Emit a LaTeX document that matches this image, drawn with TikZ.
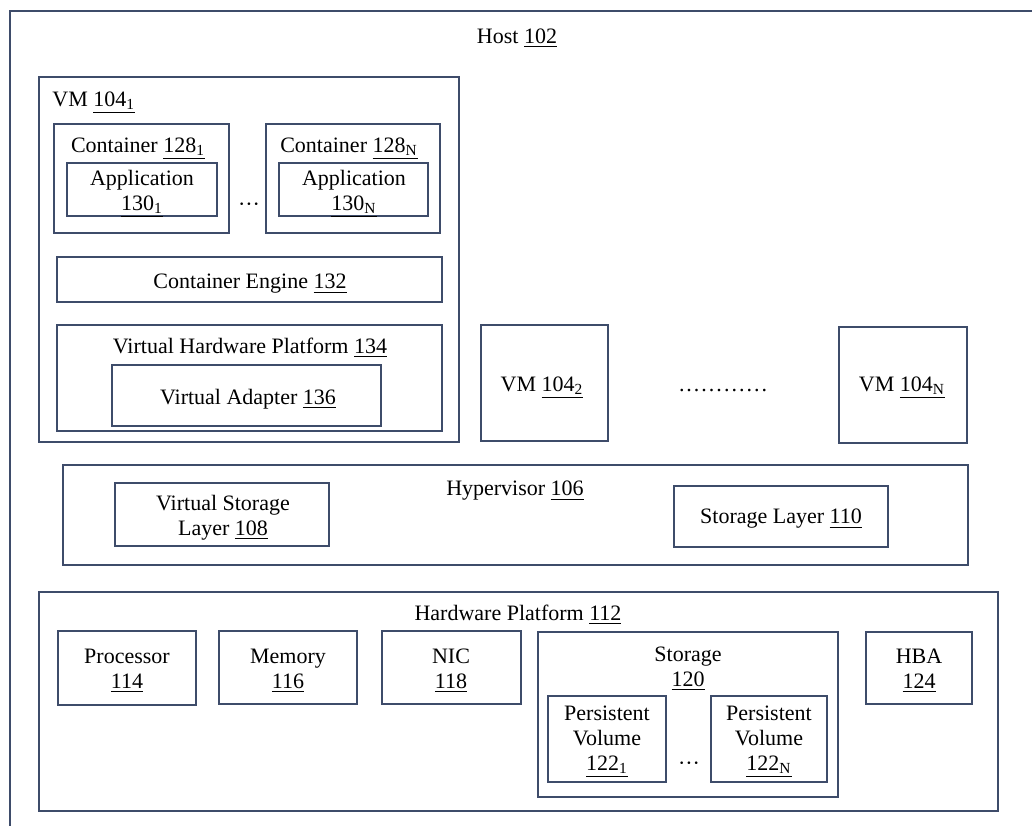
\documentclass[tikz,border=0pt]{standalone}
\usepackage{fontspec}
\setmainfont{Liberation Serif}
\usetikzlibrary{positioning, fit}
\definecolor{edgeblue}{RGB}{62,76,106}
\newcommand{\refno}[1]{\underline{#1}}
\newcommand{\low}[1]{\textsubscript{#1}}
\newcommand{\middots}{\textperiodcentered\textperiodcentered\textperiodcentered}

\begin{document}
\begin{tikzpicture}[x=0.5pt, y=-0.5pt,
				every node/.style={font=\fontsize{11}{12.5}\selectfont},
				frame/.style={draw=edgeblue, line width=0.8pt, inner sep=0pt},
				txt/.style={align=center, inner sep=0pt, yshift=-1pt}]
				\useasboundingbox (0,0) rectangle (1032,825);
				% host, running past the page
				\node[frame, fit={(10,11) (1060,860)}] (host) {};
				\node[txt] (hostlbl) at (517,36) {Host \refno{102}};
				% first VM
				\node[frame, fit={(39,77) (459,442)}] (vm1) {};
				\node[txt, anchor=west] (vm1lbl) at (52,101) {VM \refno{104\low{1}}};
				\node[frame, fit={(54,124) (229,233)}] (cont1) {};
				\node[txt] (cont1lbl) at (138,147) {Container \refno{128\low{1}}};
				\node[frame, fit={(67,163) (217,216)}] (app1) {};
				\node[txt] (app1lbl) at (142,192) {Application\\\refno{130\low{1}}};
				\node[txt] (contdots) at (249,205) {\middots};
				\node[frame, fit={(266,124) (440,233)}] (contN) {};
				\node[txt] (contNlbl) at (349,147) {Container \refno{128\low{N}}};
				\node[frame, fit={(279,163) (428,216)}] (appN) {};
				\node[txt] (appNlbl) at (354,192) {Application\\\refno{130\low{N}}};
				\node[frame, fit={(57,257) (442,302)}] (engine) {};
				\node[txt] (enginelbl) at (250,282) {Container Engine \refno{132}};
				\node[frame, fit={(57,325) (442,431)}] (vhp) {};
				\node[txt] (vhplbl) at (250,346) {Virtual Hardware Platform \refno{134}};
				\node[frame, fit={(112,365) (381,426)}] (vadapter) {};
				\node[txt] (vadapterlbl) at (248,397) {Virtual Adapter \refno{136}};
				% other VMs
				\node[frame, fit={(481,325) (608,441)}] (vm2) {};
				\node[txt] (vm2lbl) at (542,386) {VM \refno{104\low{2}}};
				\node[txt] (vmdots) at (724,389) {\foreach \d in {1,...,12}{.\kern1pt}};
				\node[frame, fit={(839,327) (967,443)}] (vmN) {};
				\node[txt] (vmNlbl) at (902,386) {VM \refno{104\low{N}}};
				% hypervisor
				\node[frame, fit={(63,465) (968,565)}] (hyper) {};
				\node[txt] (hyperlbl) at (515,489) {Hypervisor \refno{106}};
				\node[frame, fit={(115,483) (329,546)}] (vstore) {};
				\node[txt] (vstorelbl) at (223,516) {Virtual Storage\\Layer \refno{108}};
				\node[frame, fit={(674,486) (888,547)}] (slayer) {};
				\node[txt] (slayerlbl) at (781,517) {Storage Layer \refno{110}};
				% hardware
				\node[frame, fit={(39,592) (998,811)}] (hw) {};
				\node[txt] (hwlbl) at (518,613) {Hardware Platform \refno{112}};
				\node[frame, fit={(58,631) (196,705)}] (cpu) {};
				\node[txt] (cpulbl) at (127,669) {Processor\\\refno{114}};
				\node[frame, fit={(219,631) (357,704)}] (mem) {};
				\node[txt] (memlbl) at (288,669) {Memory\\\refno{116}};
				\node[frame, fit={(382,631) (521,704)}] (nic) {};
				\node[txt] (niclbl) at (451,669) {NIC\\\refno{118}};
				\node[frame, fit={(538,632) (838,797)}] (storage) {};
				\node[txt] (storagelbl) at (688,667) {Storage\\\refno{120}};
				\node[frame, fit={(548,696) (666,782)}] (pv1) {};
				\node[txt] (pv1lbl) at (607,740) {Persistent\\Volume\\\refno{122\low{1}}};
				\node[txt] (pvdots) at (689,764) {\middots};
				\node[frame, fit={(711,696) (827,782)}] (pvN) {};
				\node[txt] (pvNlbl) at (769,740) {Persistent\\Volume\\\refno{122\low{N}}};
				\node[frame, fit={(866,632) (972,704)}] (hba) {};
				\node[txt] (hbalbl) at (919,669) {HBA\\\refno{124}};
			\end{tikzpicture}
\end{document}
